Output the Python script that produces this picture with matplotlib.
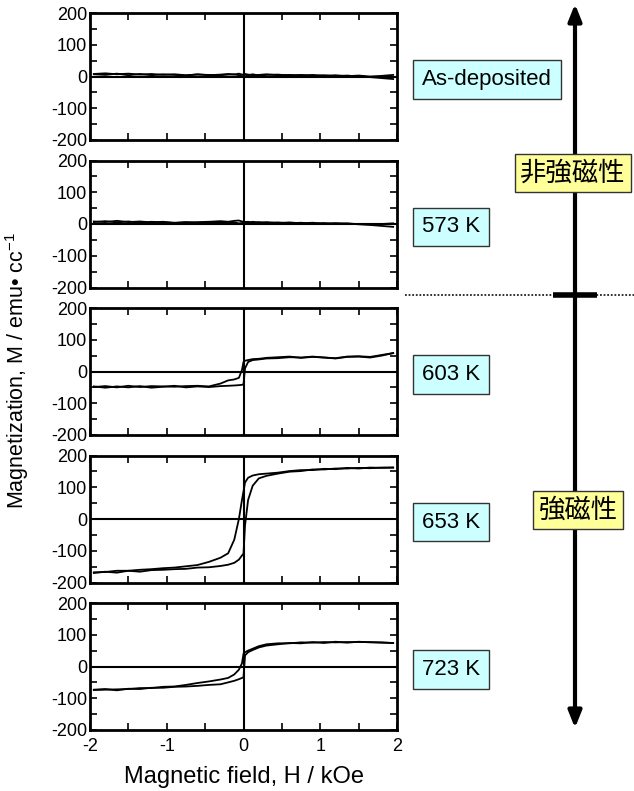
import matplotlib.pyplot as plt
from matplotlib.ticker import MultipleLocator

plt.rcParams['font.family'] = ['Liberation Sans', 'Noto Sans CJK JP', 'DejaVu Sans']
plt.rcParams['mathtext.fontset'] = 'custom'
plt.rcParams['mathtext.rm'] = 'Liberation Sans'
plt.rcParams['mathtext.default'] = 'regular'

###================ Data =================###

# field grid (kOe), shared by every branch
H = [-1.95, -1.8, -1.65, -1.5, -1.35, -1.2, -1.05, -0.9, -0.75, -0.6, -0.45,
     -0.3, -0.2, -0.12, -0.06, -0.02, 0.0, 0.02, 0.06, 0.12, 0.2, 0.3, 0.45,
     0.6, 0.75, 0.9, 1.05, 1.2, 1.35, 1.5, 1.65, 1.8, 1.95]

# magnetization (emu/cc), ascending and descending branches
asdep_up = [8, 10, 7, 9, 6, 8, 5, 7, 4, 6, 5, 4, 6, 7, 4, 5, 6, 5, 4, 7, 3, 5,
            6, 3, 5, 2, 4, 1, 3, 0, -2, -5, -8]
asdep_dn = [7, 5, 9, 4, 8, 4, 7, 5, 3, 7, 4, 6, 8, 6, 9, 6, 5, 8, 6, 4, 5, 7,
            4, 5, 3, 5, 2, 4, 1, 3, 0, 2, 5]

k573_up = [8, 6, 10, 6, 8, 5, 7, 4, 6, 3, 5, 6, 3, 5, 2, 3, 4, 6, 7, 4, 6, 3,
           5, 2, 4, 1, 3, 0, 2, -1, -3, -6, -9]
k573_dn = [6, 9, 5, 8, 4, 7, 5, 3, 5, 6, 7, 9, 7, 10, 11, 8, 7, 6, 4, 7, 4, 6,
           3, 5, 2, 4, 1, 3, 1, 0, -1, 0, 2]

k603_up = [-47, -51, -47, -50, -46, -51, -48, -45, -50, -47, -49, -46, -45,
           -44, -43, -42, -40, 10, 30, 36, 38, 41, 42, 45, 44, 47, 44, 41, 46,
           47, 44, 50, 58]
k603_dn = [-49, -46, -50, -45, -49, -46, -47, -48, -46, -45, -47, -38, -28,
           -25, -20, 5, 30, 34, 36, 39, 40, 43, 45, 47, 43, 46, 44, 42, 47,
           48, 46, 52, 58]

k653_up = [-170, -166, -169, -163, -166, -161, -160, -158, -157, -153, -152,
           -148, -144, -138, -128, -115, -109, -20, 60, 105, 128, 136, 143,
           149, 151, 156, 156, 159, 159, 161, 160, 162, 162]
k653_dn = [-168, -167, -163, -163, -160, -158, -155, -153, -149, -145, -135,
           -122, -108, -65, 0, 60, 87, 115, 130, 137, 141, 143, 146, 151, 154,
           154, 158, 157, 161, 159, 162, 161, 162]

k723_up = [-73, -71, -75, -70, -71, -67, -67, -64, -63, -61, -58, -56, -50,
           -45, -40, -36, -34, 35, 45, 52, 60, 66, 70, 74, 73, 77, 74, 78, 75,
           78, 76, 76, 74]
k723_dn = [-74, -73, -72, -71, -68, -68, -64, -63, -58, -52, -47, -41, -36,
           -25, -10, 10, 40, 45, 50, 56, 64, 70, 73, 73, 76, 75, 77, 76, 77,
           77, 77, 75, 74]

labels = ['As-deposited', '573 K', '603 K', '653 K', '723 K']
branches = [(asdep_up, asdep_dn), (k573_up, k573_dn), (k603_up, k603_dn),
            (k653_up, k653_dn), (k723_up, k723_dn)]

###================ Figure =================###

W, Hpx = 634, 791
fig = plt.figure(figsize=(W / 100, Hpx / 100), dpi=100)


def px_rect(left, top, width, height):
    """pixel box (from top-left) to figure coords"""
    return [left / W, 1 - (top + height) / Hpx, width / W, height / Hpx]


panel_top = 13
panel_h = 127
step = 147.5

for i, (lab, (up, dn)) in enumerate(zip(labels, branches)):
    top = panel_top + i * step
    ax = fig.add_axes(px_rect(90, top, 307, panel_h))
    ax.axhline(0, color='black', lw=1.5, zorder=1)
    ax.axvline(0, color='black', lw=1.5, zorder=1)
    ax.plot(H, up, color='black', lw=1.3, zorder=2)
    ax.plot(H, dn, color='black', lw=1.3, zorder=2)
    ax.set_xlim(-2, 2)
    ax.set_ylim(-200, 200)
    ax.xaxis.set_major_locator(MultipleLocator(1))
    ax.xaxis.set_minor_locator(MultipleLocator(0.5))
    ax.yaxis.set_major_locator(MultipleLocator(100))
    ax.yaxis.set_minor_locator(MultipleLocator(50))
    ax.tick_params(which='both', direction='in', top=True, right=True,
                   labelsize=13, width=1.2, length=5)
    ax.tick_params(axis='y', pad=2)
    ax.tick_params(axis='x', pad=6)
    for s in ax.spines.values():
        s.set_linewidth(2)
    ax.set_yticks([-200, -100, 0, 100, 200])
    ax.set_yticklabels(['-200', '-100', '0', '100', '200'])
    if i < 4:
        ax.tick_params(labelbottom=False)
    else:
        ax.set_xticks([-2, -1, 0, 1, 2])
        ax.set_xticklabels(['-2', '-1', '0', '1', '2'])
        ax.set_xlabel('Magnetic field, H / kOe', fontsize=17, labelpad=8)

    yc = 1 - (top + panel_h / 2 + 3) / Hpx
    fig.text(422 / W, yc, lab, fontsize=16, ha='left', va='center',
             bbox=dict(boxstyle='square,pad=0.4', fc='#ccffff', ec='#333333',
                       lw=1))

fig.text(17 / W, 1 - 370 / Hpx, 'Magnetization, M / emu\u2022 cc$^{-1}$',
         rotation=90, fontsize=15.5, ha='center', va='center')

# right-hand arrow and divider
ov = fig.add_axes([0, 0, 1, 1], facecolor='none')
ov.set_xlim(0, W)
ov.set_ylim(Hpx, 0)
ov.axis('off')
ov.annotate('', xy=(575, 4), xytext=(575, 728),
            arrowprops=dict(arrowstyle='<|-|>,head_length=1.0,head_width=0.4',
                            color='black', lw=3, shrinkA=0, shrinkB=0))
ov.plot([405, 634], [295, 295], color='#222222', lw=1.3, ls=(0, (1, 1)))
ov.plot([553, 597], [295, 295], color='black', lw=4, solid_capstyle='butt')

ov.text(573, 173, '非強磁性', fontsize=19, ha='center', va='center',
        family=['Noto Sans CJK JP'],
        bbox=dict(boxstyle='square,pad=0.2', fc='#ffff99', ec='#333333', lw=1))
ov.text(578, 510, '強磁性', fontsize=19, ha='center', va='center',
        family=['Noto Sans CJK JP'],
        bbox=dict(boxstyle='square,pad=0.2', fc='#ffff99', ec='#333333', lw=1))

fig.savefig('out.png', dpi=100)
